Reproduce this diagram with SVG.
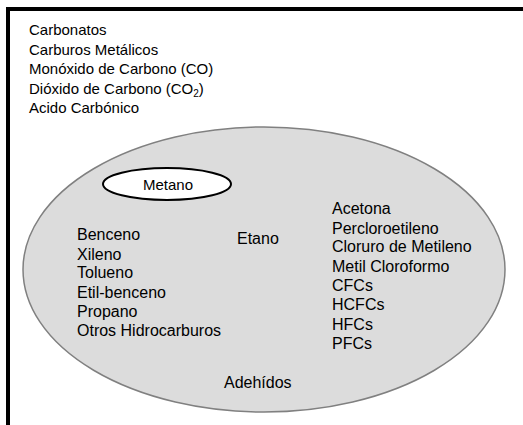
<svg xmlns="http://www.w3.org/2000/svg" width="523" height="425" viewBox="0 0 523 425">
<style>
text{font-family:"Liberation Sans",Arial,sans-serif;font-size:15px;fill:#000}
.in{font-size:16px}
.sub{font-size:10px}
</style>
<rect x="0" y="0" width="523" height="425" fill="#fff"/>
<g id="frame">
<rect x="6" y="7" width="517" height="4" fill="#000"/>
<rect x="6" y="7" width="4" height="418" fill="#000"/>
</g>
<g id="outer-list">
<text x="29" y="35">Carbonatos</text>
<text x="29" y="55">Carburos Metálicos</text>
<text x="29" y="74">Monóxido de Carbono (CO)</text>
<text x="29" y="94">Dióxido de Carbono (CO<tspan class="sub" dy="3">2</tspan><tspan dy="-3">)</tspan></text>
<text x="29" y="113">Acido Carbónico</text>
</g>
<g id="big-ellipse">
<ellipse cx="264" cy="269.5" rx="241" ry="142.5" fill="#dcdcdc" stroke="#808080" stroke-width="1.5"/>
</g>
<g id="metano">
<ellipse cx="167" cy="184" rx="64" ry="16" fill="#fff" stroke="#000" stroke-width="2"/>
<text x="168" y="190" text-anchor="middle">Metano</text>
</g>
<g id="left-list" class="in">
<text class="in" x="77" y="240">Benceno</text>
<text class="in" x="77" y="260">Xileno</text>
<text class="in" x="77" y="278">Tolueno</text>
<text class="in" x="77" y="298">Etil-benceno</text>
<text class="in" x="77" y="317">Propano</text>
<text class="in" x="77" y="336">Otros Hidrocarburos</text>
</g>
<g id="etano"><text class="in" x="237" y="244">Etano</text></g>
<g id="right-list">
<text class="in" x="332" y="214">Acetona</text>
<text class="in" x="332" y="234">Percloroetileno</text>
<text class="in" x="332" y="252">Cloruro de Metileno</text>
<text class="in" x="332" y="272">Metil Cloroformo</text>
<text class="in" x="332" y="291">CFCs</text>
<text class="in" x="332" y="310">HCFCs</text>
<text class="in" x="332" y="330">HFCs</text>
<text class="in" x="332" y="349">PFCs</text>
</g>
<g id="adehidos"><text class="in" x="224" y="388">Adehídos</text></g>
<g id="connectors"/>
</svg>
